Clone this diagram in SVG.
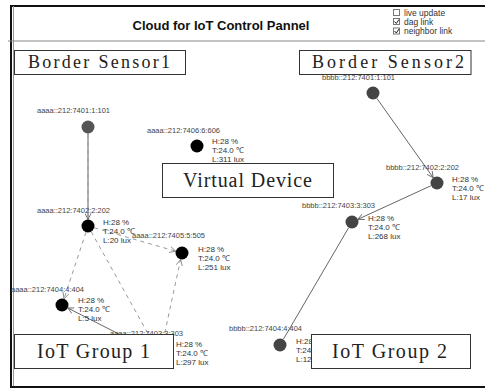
<svg xmlns="http://www.w3.org/2000/svg" width="485" height="390" viewBox="0 0 485 390">
<defs>
<style>
.lbl{font-family:"Liberation Sans",Arial,sans-serif;font-size:7.5px;fill:#444}
.info{font-family:"Liberation Sans",Arial,sans-serif;font-size:8px;fill:#333}
.cap{font-family:"Liberation Serif","Times New Roman",serif;fill:#222}
.box{fill:#fff;stroke:#333;stroke-width:1}
.dag{stroke:#666;stroke-width:1;fill:none}
.nb{stroke:#999;stroke-width:1;stroke-dasharray:4,4;fill:none}
.chk{font-family:"Liberation Sans",Arial,sans-serif;font-size:8.5px;fill:#333}
</style>
<marker id="arr" viewBox="0 0 8 8" refX="7" refY="4" markerWidth="7" markerHeight="7" orient="auto" markerUnits="userSpaceOnUse">
<path d="M0,0.5 L7,4 L0,7.5" fill="none" stroke="#666" stroke-width="1"/>
</marker>
<marker id="arrn" viewBox="0 0 8 8" refX="7" refY="4" markerWidth="7" markerHeight="7" orient="auto" markerUnits="userSpaceOnUse">
<path d="M0,0.5 L7,4 L0,7.5" fill="none" stroke="#888" stroke-width="1"/>
</marker>
</defs>
<rect x="0" y="0" width="485" height="390" fill="#fff"/>
<g id="frame">
<line x1="10" y1="6" x2="485" y2="6" stroke="#111" stroke-width="2"/>
<line x1="11" y1="5" x2="11" y2="388" stroke="#111" stroke-width="2"/>
<line x1="13.5" y1="6" x2="13.5" y2="387" stroke="#999" stroke-width="1"/>
<line x1="8" y1="41" x2="485" y2="41" stroke="#888" stroke-width="1"/>
<line x1="10" y1="387" x2="485" y2="387" stroke="#111" stroke-width="2"/>
</g>
<g id="header">
<text x="221" y="30" text-anchor="middle" font-family="'Liberation Sans',Arial,sans-serif" font-size="13" font-weight="bold" fill="#111">Cloud for IoT Control Pannel</text>
<rect x="393.5" y="9.5" width="6" height="6" fill="#fff" stroke="#777"/>
<text class="chk" x="404" y="15.5">live update</text>
<rect x="393.5" y="18.5" width="6" height="6" fill="#fff" stroke="#777"/>
<path d="M394.5,21.5 L396.3,23.5 L399,19.5" fill="none" stroke="#222" stroke-width="1"/>
<text class="chk" x="404" y="24.5">dag link</text>
<rect x="393.5" y="28" width="6" height="6" fill="#fff" stroke="#777"/>
<path d="M394.5,31 L396.3,33 L399,29" fill="none" stroke="#222" stroke-width="1"/>
<text class="chk" x="404" y="34">neighbor link</text>
</g>
<g id="connectors">
<line class="dag" x1="88" y1="133.5" x2="88" y2="219.5" marker-end="url(#arr)"/>
<line class="nb" x1="88" y1="133.5" x2="88" y2="219.5"/>
<line class="nb" x1="86" y1="232.2" x2="64" y2="298.8" marker-end="url(#arrn)"/>
<line class="nb" x1="94.2" y1="227.8" x2="175.8" y2="251.2" marker-end="url(#arrn)"/>
<line class="nb" x1="91.2" y1="231.7" x2="156.8" y2="349.3"/>
<line class="nb" x1="161.4" y1="348.6" x2="180.6" y2="259.4" marker-end="url(#arrn)"/>
<line class="dag" x1="154.2" y1="352" x2="67.8" y2="308" marker-end="url(#arr)"/>
<line class="dag" x1="376.8" y1="98.3" x2="433.2" y2="177.7" marker-end="url(#arr)"/>
<line class="dag" x1="431.1" y1="185.7" x2="357.9" y2="219.3" marker-end="url(#arr)"/>
<line class="dag" x1="348.7" y1="227.6" x2="283.3" y2="339.4"/>
</g>
<g id="node-a1">
<circle cx="88" cy="127" r="6.5" fill="#555"/>
<text class="lbl" x="37" y="113">aaaa::212:7401:1:101</text>
</g>
<g id="node-a6">
<circle cx="197" cy="146" r="6.5" fill="#000"/>
<text class="lbl" x="147" y="133">aaaa::212:7406:6:606</text>
<text class="info" x="212" y="144">H:28 %</text>
<text class="info" x="212" y="153">T:24.0 ℃</text>
<text class="info" x="212" y="162">L:311 lux</text>
</g>
<g id="node-a2">
<circle cx="88" cy="226" r="6.5" fill="#000"/>
<text class="lbl" x="37" y="213">aaaa::212:7402:2:202</text>
<text class="info" x="103" y="225">H:28 %</text>
<text class="info" x="103" y="234">T:24.0 ℃</text>
<text class="info" x="103" y="243">L:20 lux</text>
</g>
<g id="node-a5">
<circle cx="182" cy="253" r="6.5" fill="#000"/>
<text class="lbl" x="132" y="238">aaaa::212:7405:5:505</text>
<text class="info" x="198" y="252">H:28 %</text>
<text class="info" x="198" y="261">T:24.0 ℃</text>
<text class="info" x="198" y="270">L:251 lux</text>
</g>
<g id="node-a4">
<circle cx="62" cy="305" r="6.5" fill="#000"/>
<text class="lbl" x="11" y="292">aaaa::212:7404:4:404</text>
<text class="info" x="78" y="303">H:28 %</text>
<text class="info" x="78" y="312">T:24.0 ℃</text>
<text class="info" x="78" y="321">L:5 lux</text>
</g>
<g id="node-a3">
<circle cx="160" cy="355" r="6.5" fill="#000"/>
<text class="lbl" x="110" y="336">aaaa::212:7403:3:303</text>
<text class="info" x="176" y="347">H:28 %</text>
<text class="info" x="176" y="356">T:24.0 ℃</text>
<text class="info" x="176" y="365">L:297 lux</text>
</g>
<g id="node-b1">
<circle cx="373" cy="93" r="6.5" fill="#444"/>
<text class="lbl" x="322" y="80">bbbb::212:7401:1:101</text>
</g>
<g id="node-b2">
<circle cx="437" cy="183" r="6.5" fill="#444"/>
<text class="lbl" x="386" y="170">bbbb::212:7402:2:202</text>
<text class="info" x="452" y="182">H:28 %</text>
<text class="info" x="452" y="191">T:24.0 ℃</text>
<text class="info" x="452" y="200">L:17 lux</text>
</g>
<g id="node-b3">
<circle cx="352" cy="222" r="6.5" fill="#444"/>
<text class="lbl" x="302" y="208">bbbb::212:7403:3:303</text>
<text class="info" x="368" y="221">H:28 %</text>
<text class="info" x="368" y="230">T:24.0 ℃</text>
<text class="info" x="368" y="239">L:268 lux</text>
</g>
<g id="node-b4">
<circle cx="280" cy="345" r="6.5" fill="#444"/>
<text class="lbl" x="229" y="331">bbbb::212:7404:4:404</text>
<text class="info" x="296" y="344">H:28 %</text>
<text class="info" x="296" y="353">T:24.0 ℃</text>
<text class="info" x="296" y="362">L:12 lux</text>
</g>
<g id="box-border-sensor1">
<rect class="box" x="14.5" y="50.5" width="171" height="24"/>
<text class="cap" x="28" y="68" font-size="18" textLength="142" lengthAdjust="spacing">Border Sensor1</text>
</g>
<g id="box-border-sensor2">
<rect class="box" x="299.5" y="50.5" width="171.5" height="24"/>
<text class="cap" x="312" y="68" font-size="18" textLength="152" lengthAdjust="spacing">Border Sensor2</text>
</g>
<g id="box-virtual-device">
<rect class="box" x="162.5" y="163.5" width="171" height="34"/>
<text class="cap" x="183" y="187" font-size="20" textLength="129" lengthAdjust="spacing">Virtual Device</text>
</g>
<g id="box-iot-group1">
<rect class="box" x="14.5" y="334.5" width="159" height="34"/>
<text class="cap" x="37" y="358" font-size="20" textLength="113" lengthAdjust="spacing">IoT Group 1</text>
</g>
<g id="box-iot-group2">
<rect class="box" x="311.5" y="334.5" width="159" height="34"/>
<text class="cap" x="332" y="358" font-size="20" textLength="115" lengthAdjust="spacing">IoT Group 2</text>
</g>
</svg>
